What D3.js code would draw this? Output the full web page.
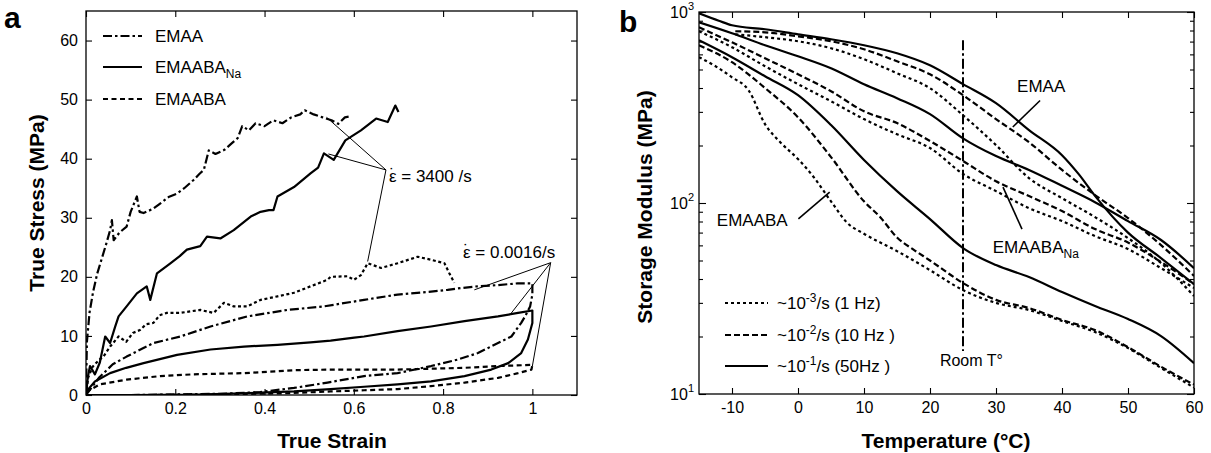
<!DOCTYPE html>
<html><head><meta charset="utf-8">
<script src="https://cdn.jsdelivr.net/npm/d3@7"></script>
<style>
body{margin:0;background:#fff}
svg{display:block}
text{font-family:"Liberation Sans",Arial,Helvetica,sans-serif;fill:#000}
</style>
</head><body>
<svg id="c" width="1211" height="453"></svg>
<script>
// ---------- Panel a data (true strain, true stress MPa) ----------
const xTicksA = [0, 0.2, 0.4, 0.6, 0.8, 1];
const xTickLabelsA = ["0", "0.2", "0.4", "0.6", "0.8", "1"];
const yTicksA = [0, 10, 20, 30, 40, 50, 60];

const emaaHigh = [[0,0],[0.002,9],[0.008,14],[0.016,17.5],[0.025,20.5],[0.035,23],[0.045,25.5],[0.054,27.9],[0.058,29.6],[0.062,26.2],[0.075,27.5],[0.091,28.5],[0.1,31],[0.114,33.6],[0.12,31],[0.129,30.8],[0.15,31.5],[0.166,32.4],[0.185,33.5],[0.204,34.1],[0.22,35],[0.241,36.4],[0.255,37.5],[0.264,38.1],[0.275,41.4],[0.29,40.8],[0.31,41.5],[0.325,42.5],[0.34,43.5],[0.35,45.5],[0.365,44.8],[0.38,46],[0.4,45.5],[0.42,46.5],[0.44,46],[0.46,47],[0.48,47.5],[0.49,48.2],[0.51,47.5],[0.53,47],[0.55,46.5],[0.565,45.9],[0.58,47],[0.595,47.2]];
const naHigh = [[0,0],[0.004,3],[0.009,4.9],[0.02,3.5],[0.031,5.5],[0.043,9.9],[0.054,8.8],[0.065,11.5],[0.073,13.3],[0.091,15],[0.114,17.2],[0.136,18.4],[0.144,16.1],[0.159,20.6],[0.189,22.3],[0.21,23.5],[0.226,24.6],[0.256,25.2],[0.271,26.8],[0.301,26.5],[0.331,27.9],[0.369,30.2],[0.391,31],[0.41,31.3],[0.42,31.3],[0.429,33.6],[0.466,35.2],[0.503,37.5],[0.52,38.5],[0.533,40.9],[0.555,39.8],[0.581,43.1],[0.616,44.8],[0.65,46.8],[0.676,46.2],[0.693,49],[0.70,47.9]];
const baHigh = [[0,0],[0.005,3],[0.015,4.8],[0.03,6],[0.039,6.5],[0.054,8.2],[0.073,9.9],[0.09,9],[0.105,10.5],[0.121,11],[0.135,12],[0.151,12.2],[0.165,13.5],[0.181,13.9],[0.211,13.9],[0.256,14.4],[0.286,13.9],[0.309,15.6],[0.331,15],[0.361,15],[0.391,16.1],[0.429,16.7],[0.466,17.3],[0.503,18.4],[0.541,19.5],[0.548,20],[0.586,20.1],[0.6,19.5],[0.616,20.3],[0.631,22.3],[0.661,21.5],[0.698,22.3],[0.743,23.4],[0.773,22.9],[0.803,22.3],[0.814,20.6],[0.825,19]];

const emaaLow = [[0,0],[0.03,3],[0.06,5.2],[0.091,6.5],[0.151,8.8],[0.211,9.9],[0.279,11.6],[0.361,13.3],[0.451,14.4],[0.533,15],[0.623,16.1],[0.698,17],[0.773,17.5],[0.81,17.8],[0.84,18.1],[0.877,18.4],[0.923,18.6],[0.967,18.9],[1.0,18.9],[1.0,17],[0.995,15],[0.985,13.5],[0.975,12.2],[0.953,9.9],[0.923,8.8],[0.878,7.1],[0.833,6],[0.773,4.9],[0.698,3.7],[0.623,3.2],[0.541,2.1],[0.466,1.2],[0.39,0.5],[0.3,0.2],[0.2,0.1],[0.1,0],[0,0]];
const naLow = [[0,0.5],[0.02,2.3],[0.054,3.7],[0.09,4.6],[0.129,5.4],[0.204,6.8],[0.279,7.7],[0.354,8.2],[0.429,8.5],[0.503,8.9],[0.548,9.2],[0.601,9.7],[0.623,9.9],[0.698,10.8],[0.773,11.6],[0.848,12.5],[0.923,13.3],[0.968,13.9],[1.0,14.3],[1.0,12.2],[0.99,9.4],[0.975,7.1],[0.946,5.4],[0.908,4.3],[0.848,3.2],[0.773,2.3],[0.698,1.8],[0.623,1.4],[0.548,1.0],[0.466,0.6],[0.35,0.3],[0.25,0.05],[0.1,0],[0,0]];
const baLow = [[0,0.5],[0.031,1.8],[0.091,2.6],[0.166,3.2],[0.241,3.5],[0.354,3.7],[0.466,4.2],[0.548,4.3],[0.698,4.3],[0.848,4.6],[0.923,4.9],[1.0,5.1],[0.998,4.3],[0.968,3.7],[0.923,2.9],[0.848,2.1],[0.773,1.5],[0.698,1.0],[0.623,0.8],[0.548,0.6],[0.45,0.3],[0.3,0.1],[0.15,0],[0,0]];

const legendA = ["EMAA", "EMAABA", "EMAABA"];   // second carries subscript "Na"
const rateHighLabel = " = 3400 /s";
const rateLowLabel = " = 0.0016/s";
const highApex = [0.672, 38.1];
const highTargets = [[0.539, 47], [0.543, 40.8], [0.631, 22.6]];
const lowApex = [1.041, 22.4];
const lowTargets = [[0.87, 17.8], [0.949, 13.5], [1.0, 4.9]];

// ---------- Panel b data (temperature °C, storage modulus MPa) ----------
const xTicksB = [-10, 0, 10, 20, 30, 40, 50, 60];
const yMajorB = [10, 100, 1000];
const yExpB = ["1", "2", "3"];
const emaa50 = [[-15,985],[-12,900],[-10,852],[-5,812],[0,764],[5,720],[10,670],[15,608],[20,526],[25,419],[30,333],[35,241],[40,178],[42.5,142],[45,109],[50,70],[55,51.5],[60,37.6]];
const emaa10 = [[-9.5,793],[-5,783],[0,746],[5,703],[10,638],[15,552],[20,472],[25,367],[30,275],[35,208],[40,149],[45,110],[50,83.4],[55,60.2],[60,41.5]];
const emaa1  = [[-9.5,764],[-5,738],[0,703],[5,646],[10,566],[15,478],[20,399],[25,288],[30,201],[35,135],[40,106],[45,84.4],[50,65.5],[55,48.5],[60,32.6]];
const na50 = [[-15,883],[-10,774],[-5,670],[0,587],[5,508],[10,419],[15,354],[20,292],[25,218],[30,176],[35,149],[40,123],[45,101],[50,80.4],[55,64],[60,45.6]];
const na10 = [[-15,832],[-10,694],[-5,573],[0,472],[5,385],[10,302],[15,262],[20,211],[25,166],[30,130],[35,108.7],[40,90.7],[45,73],[50,62.1],[55,49.1],[60,37.6]];
const na1  = [[-15,793],[-10,654],[-5,520],[0,419],[5,341],[10,275],[15,229],[20,194],[25,142],[30,115.4],[35,94],[40,80.4],[45,67.1],[50,57.4],[55,45.6],[60,35.9]];
const ba50 = [[-15,711],[-10,580],[-5,461],[0,367],[5,256],[10,168],[15,115.4],[20,82.4],[25,58.1],[30,47.3],[35,41],[40,34.2],[45,28.9],[50,24.7],[55,20.1],[60,14.5]];
const ba10 = [[-15,670],[-10,546],[-5,400],[0,281],[5,174],[10,102],[12.5,84],[15,66],[17.5,57],[20,50],[25,38.1],[30,31.1],[35,28.2],[40,24.4],[45,21.6],[50,17.6],[55,13.9],[60,11.2]];
const ba1  = [[-15,580],[-12.5,520],[-10,455],[-7.5,390],[-5,259],[-2.5,205],[0,170],[2.5,135],[5,102],[7.5,78.5],[10,69],[15,56],[20,44.5],[25,35],[30,30],[35,27.5],[40,24.1],[45,21.1],[50,17.4],[55,13.7],[60,10.8]];
const legendB = [["-3","/s (1 Hz)"],["-2","/s (10 Hz )"],["-1","/s (50Hz )"]];
const roomT = 25, roomTop = 711, roomBottom = 16.8;

// ---------- drawing ----------
const svg = d3.select("#c");
const FONT = '"Liberation Sans",Arial,sans-serif';
const DASHDOT = "9,3,2.5,3", DASH = "6,3", DOT = "3,2.6", DOTB = "3,3";

function clean(g, size){
  g.select(".domain").remove();
  g.attr("font-family", FONT).attr("font-size", size || 16);
  g.selectAll("line").attr("stroke","#000").attr("stroke-width",1.1);
  g.selectAll("text").attr("fill","#000");
}

// Panel a
const A = {l:86, r:577, t:11, b:395};
const xa = d3.scaleLinear().domain([0,1.1]).range([A.l,A.r]);
const ya = d3.scaleLinear().domain([0,65]).range([A.b,A.t]);
const gA = svg.append("g");
svg.append("defs").html(`<clipPath id="ca"><rect x="${A.l}" y="${A.t}" width="${A.r-A.l}" height="${A.b-A.t}"/></clipPath>
<clipPath id="cb"><rect x="699" y="12" width="495" height="382"/></clipPath>`);

gA.append("g").attr("transform",`translate(0,${A.b})`)
  .call(d3.axisBottom(xa).tickValues(xTicksA).tickSize(-6).tickPadding(8).tickFormat((d,i)=>xTickLabelsA[i])).call(g=>clean(g));
gA.append("g").attr("transform",`translate(0,${A.t})`)
  .call(d3.axisTop(xa).tickValues(xTicksA).tickSize(-6).tickFormat("")).call(g=>clean(g));
gA.append("g").attr("transform",`translate(${A.l},0)`)
  .call(d3.axisLeft(ya).tickValues(yTicksA).tickSize(-6).tickPadding(8)).call(g=>clean(g));
gA.append("g").attr("transform",`translate(${A.r},0)`)
  .call(d3.axisRight(ya).tickValues(yTicksA).tickSize(-6).tickFormat("")).call(g=>clean(g));
gA.append("rect").attr("x",A.l).attr("y",A.t).attr("width",A.r-A.l).attr("height",A.b-A.t)
  .attr("fill","none").attr("stroke","#000").attr("stroke-width",1.3);

const lineA = d3.line().x(d=>xa(d[0])).y(d=>ya(d[1]));
const curvesA = [
  [emaaHigh, DASHDOT], [naHigh, null], [baHigh, DOT],
  [emaaLow, DASHDOT], [naLow, null], [baLow, "5,3.5"]
];
const cA = gA.append("g").attr("clip-path","url(#ca)");
curvesA.forEach(([d,dash])=>{
  cA.append("path").attr("d",lineA(d)).attr("fill","none").attr("stroke","#000")
    .attr("stroke-width",2.2).attr("stroke-linejoin","round")
    .attr("stroke-dasharray",dash);
});
// annotation lines
highTargets.forEach(t=>gA.append("line").attr("x1",xa(highApex[0])).attr("y1",ya(highApex[1]))
  .attr("x2",xa(t[0])).attr("y2",ya(t[1])).attr("stroke","#000").attr("stroke-width",1));
lowTargets.forEach(t=>gA.append("line").attr("x1",xa(lowApex[0])).attr("y1",ya(lowApex[1]))
  .attr("x2",xa(t[0])).attr("y2",ya(t[1])).attr("stroke","#000").attr("stroke-width",1));
function rateLabel(x, y, rest){
  const t = gA.append("text").attr("x",x).attr("y",y).attr("font-size",17);
  t.append("tspan").text("ε");
  t.append("tspan").attr("dx",-7.4).attr("dy",-2).text("\u02D9");   // dot above epsilon
  t.append("tspan").attr("dx",1.7).attr("dy",2).text(rest);
}
rateLabel(xa(highApex[0])+3, ya(highApex[1])+12, rateHighLabel);
rateLabel(463, 258, rateLowLabel);

// legend a
const legDashA = [DASHDOT, null, "5,3.5"];
[36,67,99].forEach((yy,i)=>{
  gA.append("line").attr("x1",103).attr("x2",142).attr("y1",yy).attr("y2",yy)
    .attr("stroke","#000").attr("stroke-width",2.2).attr("stroke-dasharray",legDashA[i]);
  const t = gA.append("text").attr("x",155).attr("y",yy+6).attr("font-size",17).text(legendA[i]);
  if(i===1) t.append("tspan").attr("font-size",12).attr("dy",5).text("Na");
});

// titles a
gA.append("text").attr("x",4).attr("y",28).attr("font-size",30).attr("font-weight","bold").text("a");
gA.append("text").attr("transform","translate(44,203) rotate(-90)").attr("text-anchor","middle")
  .attr("font-size",21).attr("font-weight","bold").text("True Stress (MPa)");
gA.append("text").attr("x",332).attr("y",448).attr("text-anchor","middle")
  .attr("font-size",21).attr("font-weight","bold").text("True Strain");

// Panel b
const B = {l:699, r:1194, t:12, b:394};
const xb = d3.scaleLinear().domain([-15,60]).range([B.l,B.r]);
const yb = d3.scaleLog().domain([10,1000]).range([B.b,B.t]);
const gB = svg.append("g");
const minorB = [];
[10,100].forEach(dec=>{ for(let k=2;k<=9;k++) minorB.push(dec*k); });

gB.append("g").attr("transform",`translate(0,${B.b})`)
  .call(d3.axisBottom(xb).tickValues(xTicksB).tickSize(-6).tickPadding(8).tickFormat(d=>String(d))).call(g=>clean(g));
gB.append("g").attr("transform",`translate(0,${B.t})`)
  .call(d3.axisTop(xb).tickValues(xTicksB).tickSize(-6).tickFormat("")).call(g=>clean(g));
[[B.l, d3.axisLeft],[B.r, d3.axisRight]].forEach(([xx,fn])=>{
  gB.append("g").attr("transform",`translate(${xx},0)`)
    .call(fn(yb).tickValues(yMajorB).tickSize(-7).tickFormat("")).call(g=>clean(g));
  gB.append("g").attr("transform",`translate(${xx},0)`)
    .call(fn(yb).tickValues(minorB).tickSize(-4).tickFormat("")).call(g=>clean(g));
});
yMajorB.forEach((v,i)=>{
  const t = gB.append("text").attr("x",B.l-5).attr("y",yb(v)+6).attr("text-anchor","end").attr("font-size",16).text("10");
  t.append("tspan").attr("font-size",11).attr("dy",-8).text(yExpB[i]);
});
gB.append("rect").attr("x",B.l).attr("y",B.t).attr("width",B.r-B.l).attr("height",B.b-B.t)
  .attr("fill","none").attr("stroke","#000").attr("stroke-width",1.3);

const lineB = d3.line().x(d=>xb(d[0])).y(d=>yb(d[1])).curve(d3.curveMonotoneX);
const cB = gB.append("g").attr("clip-path","url(#cb)");
[[emaa50,null],[emaa10,DASH],[emaa1,DOTB],[na50,null],[na10,DASH],[na1,DOTB],[ba50,null],[ba10,DASH],[ba1,DOTB]]
.forEach(([d,dash])=>{
  cB.append("path").attr("d",lineB(d)).attr("fill","none").attr("stroke","#000")
    .attr("stroke-width",2.2).attr("stroke-linejoin","round").attr("stroke-dasharray",dash);
});
// room temperature line
gB.append("line").attr("x1",xb(roomT)).attr("x2",xb(roomT)).attr("y1",yb(roomTop)).attr("y2",yb(roomBottom))
  .attr("stroke","#000").attr("stroke-width",2).attr("stroke-dasharray","10,3,2.5,3");
gB.append("text").attr("x",xb(21.5)).attr("y",yb(14)).attr("font-size",16).text("Room T°");

// labels b
function pointer(t1,e1,t2,e2){
  gB.append("line").attr("x1",xb(t1)).attr("y1",yb(e1)).attr("x2",xb(t2)).attr("y2",yb(e2))
    .attr("stroke","#000").attr("stroke-width",1.6);
}
gB.append("text").attr("x",xb(33.2)).attr("y",yb(380)).attr("font-size",17).text("EMAA");
pointer(32.55,250,36.68,344);
gB.append("text").attr("x",xb(-12.3)).attr("y",yb(75.7)).attr("font-size",17).text("EMAABA");
pointer(0.06,82.6,4.8,114);
const tNa = gB.append("text").attr("x",xb(29.5)).attr("y",yb(54.7)).attr("font-size",17).text("EMAABA");
tNa.append("tspan").attr("font-size",12).attr("dy",5).text("Na");
pointer(31.06,121,33.94,73);

// legend b
const legDashB = [DOTB, DASH, null];
[303,335,366].forEach((yy,i)=>{
  gB.append("line").attr("x1",725).attr("x2",768).attr("y1",yy).attr("y2",yy)
    .attr("stroke","#000").attr("stroke-width",2.2).attr("stroke-dasharray",legDashB[i]);
  const t = gB.append("text").attr("x",777).attr("y",yy+6).attr("font-size",17).text("~10");
  t.append("tspan").attr("font-size",12).attr("dy",-7).text(legendB[i][0]);
  t.append("tspan").attr("dy",7).text(legendB[i][1]);
});

// titles b
gB.append("text").attr("x",619).attr("y",32).attr("font-size",30).attr("font-weight","bold").text("b");
gB.append("text").attr("transform","translate(652,207) rotate(-90)").attr("text-anchor","middle")
  .attr("font-size",21).attr("font-weight","bold").text("Storage Modulus (MPa)");
gB.append("text").attr("x",946).attr("y",448).attr("text-anchor","middle")
  .attr("font-size",21).attr("font-weight","bold").text("Temperature (°C)");
</script>
</body></html>
